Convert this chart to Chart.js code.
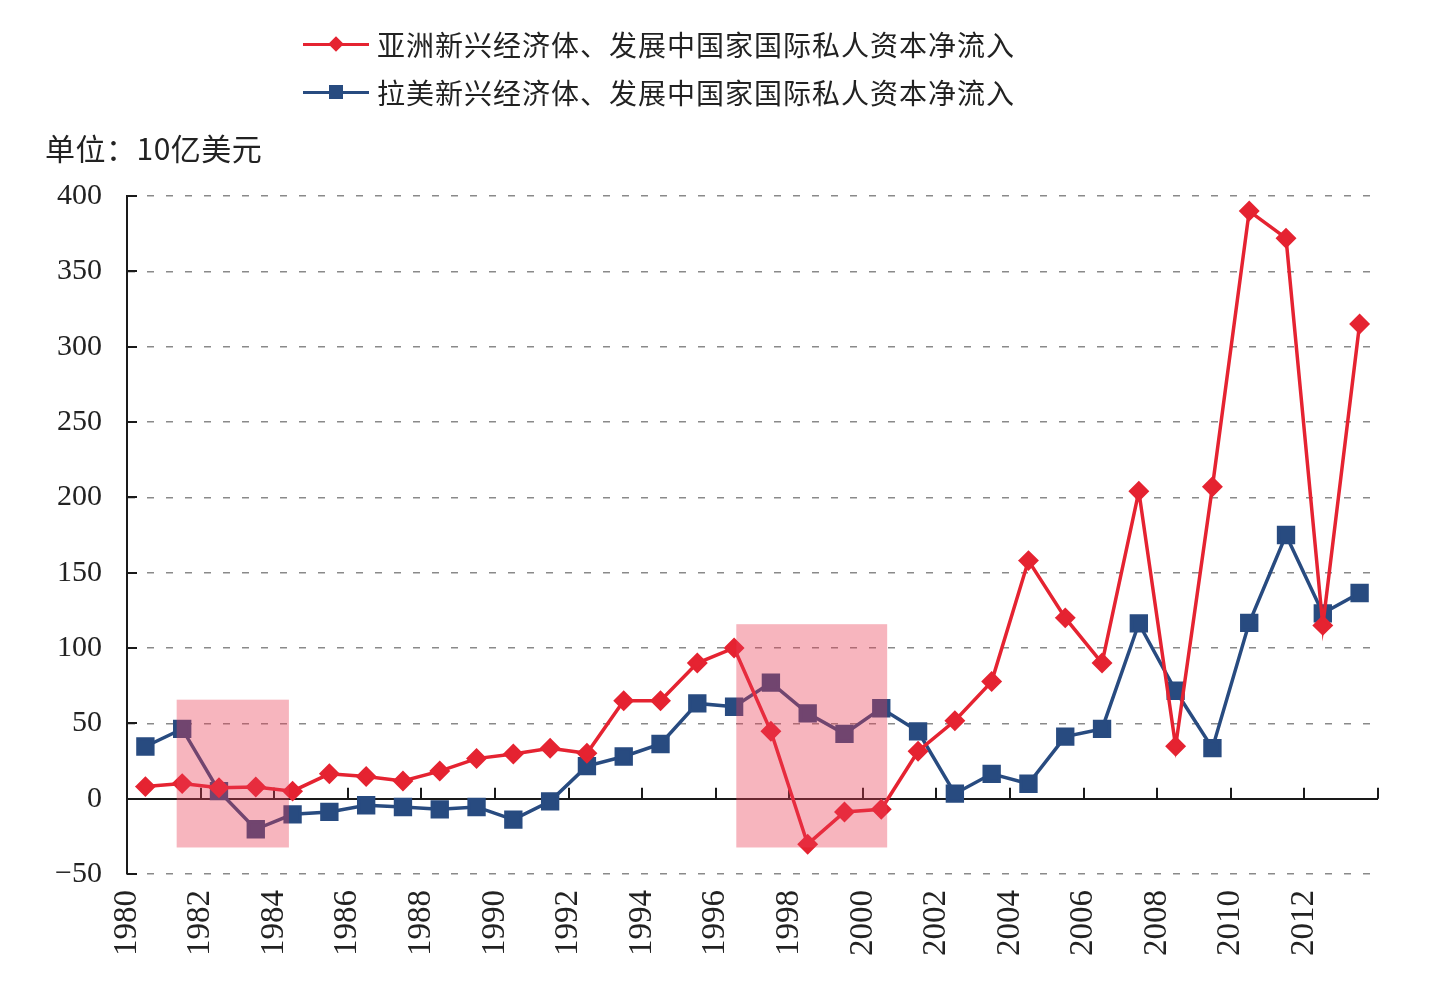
<!DOCTYPE html>
<html>
<head>
<meta charset="utf-8">
<script src="https://cdn.jsdelivr.net/npm/chart.js@4.4.1/dist/chart.umd.min.js"></script>
<style>
  body { margin: 0; background: #fff; }
  #wrap { position: relative; width: 1434px; height: 989px; }
  .legend-row {
    position: absolute; left: 303px; height: 40px;
    display: flex; align-items: center;
    font-family: "Noto Sans CJK SC"; font-size: 28px; letter-spacing: 1px;
    color: #222; white-space: nowrap;
  }
  .key { position: relative; width: 66px; height: 40px; margin-right: 8px; }
  .key .ln { position: absolute; left: 0; right: 0; top: 18.5px; height: 3.5px; }
  .key .mk { position: absolute; left: 50%; top: 50%; }
  #unit {
    position: absolute; left: 45px; top: 127px; height: 40px; line-height: 40px;
    font-family: "Noto Sans CJK SC"; font-size: 30px; letter-spacing: 0.5px;
    color: #222; white-space: nowrap;
  }
</style>
</head>
<body>
<div id="wrap">
  <canvas id="flowChart"></canvas>
  <div class="legend-row" style="top:24px">
    <div class="key">
      <div class="ln" style="background:#e52331"></div>
      <div class="mk" style="width:11px;height:11px;background:#e52331;transform:translate(-50%,-50%) rotate(45deg)"></div>
    </div>
    <span>亚洲新兴经济体、发展中国家国际私人资本净流入</span>
  </div>
  <div class="legend-row" style="top:72px">
    <div class="key">
      <div class="ln" style="background:#284b80"></div>
      <div class="mk" style="width:14px;height:14px;background:#284b80;transform:translate(-50%,-50%)"></div>
    </div>
    <span>拉美新兴经济体、发展中国家国际私人资本净流入</span>
  </div>
  <div id="unit">单位：10亿美元</div>
</div>
<script>
const years = [1980, 1981, 1982, 1983, 1984, 1985, 1986, 1987, 1988, 1989,
               1990, 1991, 1992, 1993, 1994, 1995, 1996, 1997, 1998, 1999,
               2000, 2001, 2002, 2003, 2004, 2005, 2006, 2007, 2008, 2009,
               2010, 2011, 2012, 2013];

// Asia emerging / developing economies, net private capital inflows (USD bn)
const asiaFlows = [8, 10, 7.3, 7.7, 5, 16.5, 14.7, 11.7, 18.3, 26.6,
                   29.7, 33.4, 30.1, 65, 65, 90, 100, 44.7, -30.2, -8.8,
                   -7, 31.5, 51.7, 77.7, 158, 120, 90, 204, 34.8, 207,
                   390, 372, 115, 315];

// Latin America emerging / developing economies
const latamFlows = [34.6, 46.3, 5, -20.3, -10.4, -8.8, -4.4, -5.5, -7.1, -5.5,
                    -13.9, -1.8, 21.6, 28, 36.3, 63.2, 61, 77, 56.6, 43,
                    60, 44.7, 3.3, 16.5, 9.9, 41.2, 46.3, 116.3, 71.6, 33.5,
                    116.7, 175, 123, 136.5];

const xTickLabels = ['1980', '1982', '1984', '1986', '1988', '1990', '1992', '1994', '1996',
                     '1998', '2000', '2002', '2004', '2006', '2008', '2010', '2012'];

// crisis periods shaded on the chart
const shadeStart = [1981.35, 1996.56];
const shadeEnd = [1984.4, 2000.66];
const shadeLow = [-32.4, -32.4];
const shadeHigh = [65.7, 115.8];

const toPoints = vals => years.map((yr, i) => ({ x: yr + 0.5, y: vals[i] }));

// short tick marks on the zero line and inside the y axis
const axisTicks = {
    id: 'axisTicks',
    beforeDatasetsDraw(chart) {
        const { ctx, scales: { x, y } } = chart;
        const y0 = y.getPixelForValue(0);
        ctx.save();
        ctx.strokeStyle = '#1a1a1a';
        ctx.lineWidth = 2;
        ctx.beginPath();
        x.ticks.forEach(t => {
            if (t.value % 2 === 0 && t.value > x.min) {
                const px = Math.round(x.getPixelForValue(t.value));
                ctx.moveTo(px, y0);
                ctx.lineTo(px, y0 - 11);
            }
        });
        y.ticks.forEach(t => {
            const py = Math.round(y.getPixelForValue(t.value));
            ctx.moveTo(x.left, py);
            ctx.lineTo(x.left + 10, py);
        });
        ctx.stroke();
        ctx.restore();
    }
};

const shadeBoxes = {
    id: 'shadeBoxes',
    afterDatasetsDraw(chart) {
        const { ctx, scales: { x, y } } = chart;
        ctx.save();
        ctx.fillStyle = 'rgba(235, 60, 85, 0.38)';
        shadeStart.forEach((s, i) => {
            const l = x.getPixelForValue(s);
            const r = x.getPixelForValue(shadeEnd[i]);
            const t = y.getPixelForValue(shadeHigh[i]);
            const b = y.getPixelForValue(shadeLow[i]);
            ctx.fillRect(l, t, r - l, b - t);
        });
        ctx.restore();
    }
};

const ctxFlow = document.getElementById('flowChart').getContext('2d');
new Chart(ctxFlow, {
    type: 'line',
    data: {
        datasets: [{
            label: '亚洲新兴经济体、发展中国家国际私人资本净流入',
            data: toPoints(asiaFlows),
            borderColor: '#e52331',
            backgroundColor: '#e52331',
            borderWidth: 3.5,
            pointStyle: 'rectRot',
            pointRadius: 8,
            pointHoverRadius: 8,
            tension: 0
        }, {
            label: '拉美新兴经济体、发展中国家国际私人资本净流入',
            data: toPoints(latamFlows),
            borderColor: '#284b80',
            backgroundColor: '#284b80',
            borderWidth: 3.5,
            pointStyle: 'rect',
            pointRadius: 10.5,
            pointHoverRadius: 10.5,
            tension: 0
        }]
    },
    options: {
        responsive: true,
        maintainAspectRatio: false,
        animation: false,
        layout: { padding: { top: 196, right: 56, bottom: 0, left: 0 } },
        plugins: {
            legend: { display: false },
            tooltip: { enabled: false }
        },
        scales: {
            x: {
                type: 'linear',
                min: 1980,
                max: 2014,
                afterFit: scale => { scale.height = 115; },
                grid: { display: false, drawTicks: false },
                border: { display: false },
                ticks: {
                    stepSize: 1,
                    autoSkip: false,
                    minRotation: 90,
                    maxRotation: 90,
                    padding: 16,
                    color: '#222',
                    font: { family: 'Liberation Serif', size: 33 },
                    callback: v => xTickLabels.includes(String(v)) ? String(v) : ''
                }
            },
            y: {
                min: -50,
                max: 400,
                afterFit: scale => { scale.width = 127; },
                grid: {
                    drawTicks: false,
                    color: c => c.tick && c.tick.value === 0 ? '#1a1a1a' : '#8a8a8a',
                    lineWidth: c => c.tick && c.tick.value === 0 ? 2 : 1.5
                },
                border: {
                    display: true,
                    color: '#1a1a1a',
                    width: 2,
                    dash: c => c.tick && c.tick.value === 0 ? [] : [7, 12]
                },
                ticks: {
                    stepSize: 50,
                    padding: 25,
                    color: '#222',
                    font: { family: 'Liberation Serif', size: 30 },
                    callback: v => v < 0 ? '\u2212' + Math.abs(v) : String(v)
                }
            }
        }
    },
    plugins: [axisTicks, shadeBoxes]
});
</script>
</body>
</html>
